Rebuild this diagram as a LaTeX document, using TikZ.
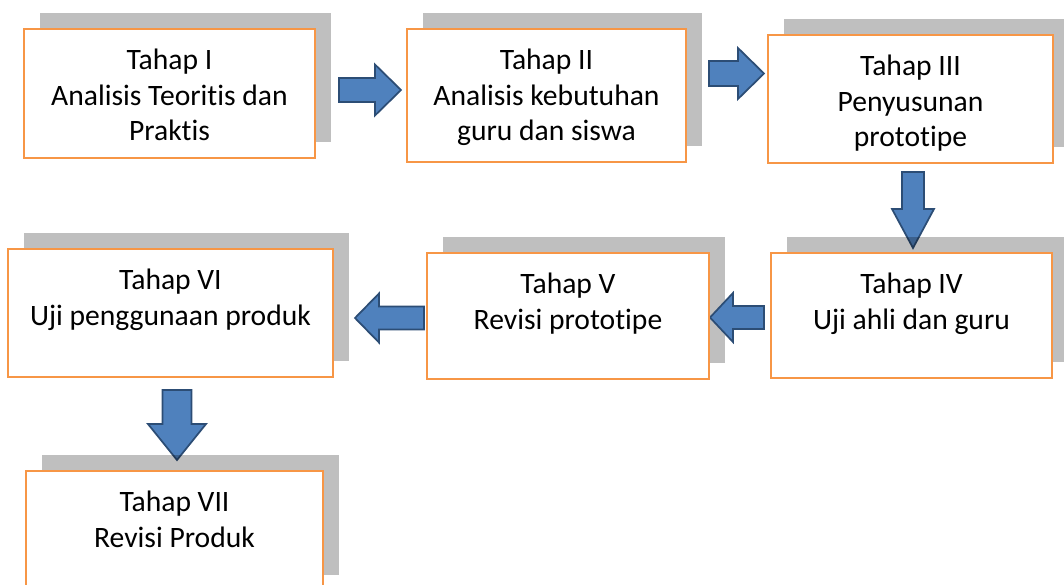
\documentclass[tikz,border=0pt]{standalone}
\usepackage{fontspec}
\setmainfont{Carlito}[Ligatures=NoCommon]
\usetikzlibrary{calc}
\pgfdeclarelayer{arrowlayer}
\pgfdeclarelayer{shadowlayer}
\pgfdeclarelayer{toparrowlayer}
\pgfsetlayers{arrowlayer,shadowlayer,toparrowlayer,main}
\definecolor{boxorange}{HTML}{F79646}
\definecolor{arrowblue}{HTML}{4F81BD}
\definecolor{arrowedge}{HTML}{2C4D75}
\tikzset{
 stagebox/.style={draw=boxorange, line width=1.7pt, fill=white, inner sep=0pt, outer sep=0pt},
 stagetext/.style={anchor=north, align=center, inner sep=0pt, font=\fontsize{22.2}{26.8}\selectfont},
 shadowbox/.style={fill=black, fill opacity=0.25},
 blockarrow/.style={fill=arrowblue, draw=arrowedge, line width=1.3pt, line join=miter},
}
% name, x1, y1, x2, y2 (px), text
\newcommand\stage[6]{%
 \pgfmathsetmacro\stw{(#4-#2)*0.75}%
 \pgfmathsetmacro\sth{(#5-#3)*0.75}%
 \node[stagebox, minimum width=\stw pt, minimum height=\sth pt] (#1) at ({(#2+#4)/2},{(#3+#5)/2}) {};
 \node[stagetext] (#1t) at ([yshift=-14.6pt]#1.north) {#6};
 \begin{pgfonlayer}{shadowlayer}
 \fill[shadowbox] ([shift={(16,-16)}]#1.south west) rectangle ([shift={(16,-16)}]#1.north east);
 \end{pgfonlayer}
}
% layer, start, end, shaft half width, head half width, head length
\newcommand\blockarr[6]{%
 \begin{pgfonlayer}{#1}
 \path ($(#3)!#6!(#2)$) coordinate (#2hb);
 \draw[blockarrow] ($(#2)!#4!90:(#3)$) -- ($(#2hb)!#4!90:(#3)$) -- ($(#2hb)!#5!90:(#3)$) -- (#3) -- ($(#2hb)!#5!-90:(#3)$) -- ($(#2hb)!#4!-90:(#3)$) -- ($(#2)!#4!-90:(#3)$) -- cycle;
 \end{pgfonlayer}
}
\begin{document}
\begin{tikzpicture}[x=0.75pt,y=-0.75pt]
\useasboundingbox (0,0) rectangle (1064,585);
\stage{b1}{24}{29}{315}{158}{Tahap I\\Analisis Teoritis dan\\Praktis}
\stage{b2}{407}{29}{686}{162}{Tahap II\\Analisis kebutuhan\\guru dan siswa}
\stage{b3}{768}{35}{1053}{163}{Tahap III\\Penyusunan\\prototipe}
\stage{b4}{771}{253}{1052}{378}{Tahap IV\\Uji ahli dan guru}
\stage{b5}{427}{253}{709}{379}{Tahap V\\Revisi prototipe}
\stage{b6}{8}{249}{333}{377}{Tahap VI\\Uji penggunaan produk}
\stage{b7}{26}{471}{323}{591}{Tahap VII\\Revisi Produk}
% connectors
\path ($(b1.east)+(24,-3.5)$) coordinate (a1s);
\path (a1s -| b2.west) ++(-6,0) coordinate (a1e);
\path ($(b2.east)+(23,-22)$) coordinate (a2s);
\path (a2s -| b3.west) ++(-4,0) coordinate (a2e);
\path ($(b3.south)+(2.5,9)$) coordinate (a3s);
\path (a3s |- b4.north) ++(0,-5) coordinate (a3e);
\path ($(b4.west)+(-7,2)$) coordinate (a4s);
\path (a4s -| b5.east) ++(1,0) coordinate (a4e);
\path ($(b5.west)+(-3,2)$) coordinate (a5s);
\path (a5s -| b6.east) ++(22,0) coordinate (a5e);
\path ($(b6.south)+(6.5,13)$) coordinate (a6s);
\path (a6s |- b7.north) ++(0,-11) coordinate (a6e);
\blockarr{toparrowlayer}{a1s}{a1e}{9pt}{19.1pt}{19.5pt}
\blockarr{toparrowlayer}{a2s}{a2e}{9.4pt}{19.1pt}{19.5pt}
\blockarr{arrowlayer}{a3s}{a3e}{8.25pt}{15.75pt}{29.25pt}
\blockarr{toparrowlayer}{a4s}{a4e}{8.6pt}{18.4pt}{17.25pt}
\blockarr{toparrowlayer}{a5s}{a5e}{8.6pt}{18.4pt}{18pt}
\blockarr{arrowlayer}{a6s}{a6e}{10.9pt}{21.75pt}{27pt}
\end{tikzpicture}
\end{document}
